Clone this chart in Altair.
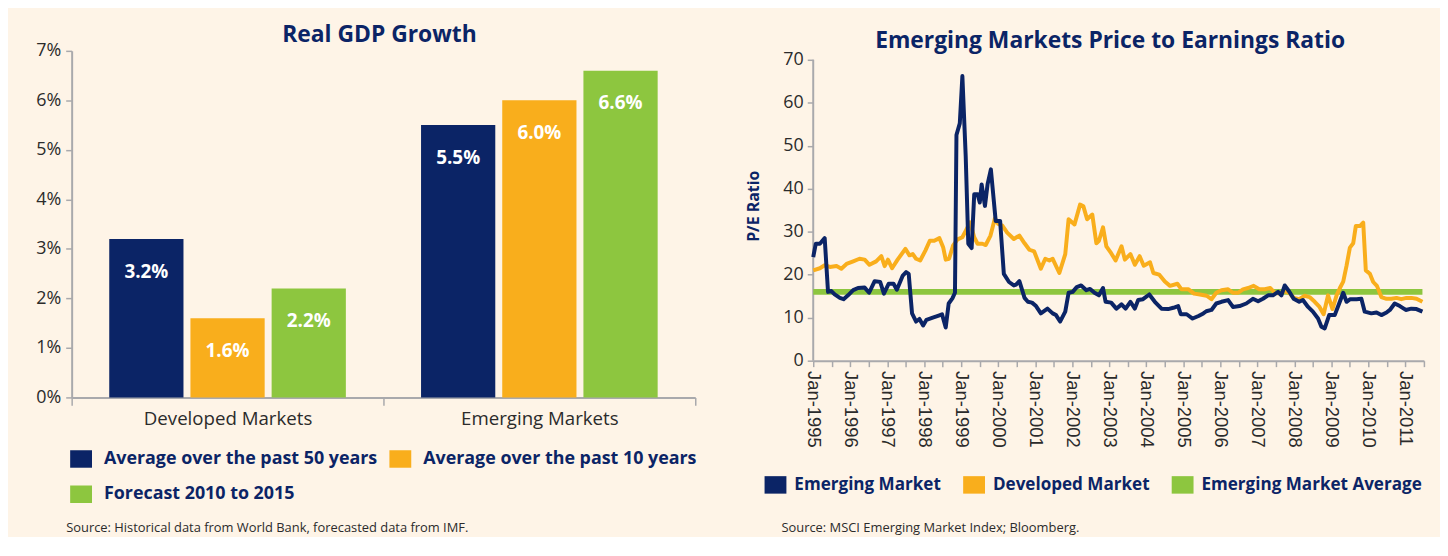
import altair as alt
import pandas as pd

# ---------------- Left chart data: Real GDP Growth ----------------
gdp_title = "Real GDP Growth"
gdp_categories = ["Developed Markets", "Emerging Markets"]
gdp_series = ["Average over the past 50 years", "Average over the past 10 years", "Forecast 2010 to 2015"]
gdp_developed = [3.2, 1.6, 2.2]
gdp_emerging = [5.5, 6.0, 6.6]
gdp_ticks = [0, 1, 2, 3, 4, 5, 6, 7]

# ---------------- Right chart data: EM P/E ratio ----------------
pe_title = "Emerging Markets Price to Earnings Ratio"
pe_series = ["Emerging Market", "Developed Market", "Emerging Market Average"]
pe_years = list(range(1995, 2012))
pe_ticks = [0, 10, 20, 30, 40, 50, 60, 70]

em_t = [1995.00, 1995.07, 1995.18, 1995.31, 1995.40, 1995.49, 1995.58, 1995.72, 1995.82, 1995.94,
        1996.08, 1996.21, 1996.39, 1996.51, 1996.66, 1996.81, 1996.91, 1997.04, 1997.17, 1997.26,
        1997.42, 1997.51, 1997.58, 1997.67, 1997.78, 1997.87, 1997.97, 1998.06, 1998.23, 1998.39,
        1998.48, 1998.58, 1998.66, 1998.76, 1998.83, 1998.87, 1998.96, 1999.03, 1999.12, 1999.19,
        1999.28, 1999.35, 1999.44, 1999.50, 1999.55, 1999.64, 1999.71, 1999.80, 1999.93, 2000.05,
        2000.15, 2000.29, 2000.42, 2000.48, 2000.57, 2000.71, 2000.80, 2000.91, 2001.02, 2001.15,
        2001.33, 2001.47, 2001.56, 2001.67, 2001.81, 2001.90, 2002.01, 2002.12, 2002.24, 2002.38,
        2002.48, 2002.60, 2002.72, 2002.83, 2002.90, 2003.05, 2003.19, 2003.33, 2003.44, 2003.57,
        2003.69, 2003.78, 2003.91, 2004.08, 2004.23, 2004.41, 2004.59, 2004.73, 2004.86, 2004.93,
        2005.09, 2005.25, 2005.41, 2005.54, 2005.62, 2005.76, 2005.89, 2006.03, 2006.21, 2006.34,
        2006.52, 2006.70, 2006.88, 2007.02, 2007.15, 2007.29, 2007.42, 2007.56, 2007.65, 2007.74,
        2007.86, 2007.98, 2008.13, 2008.23, 2008.37, 2008.50, 2008.64, 2008.73, 2008.82, 2008.94,
        2009.09, 2009.21, 2009.32, 2009.41, 2009.51, 2009.68, 2009.81, 2009.90, 2010.08, 2010.22,
        2010.35, 2010.49, 2010.58, 2010.71, 2010.85, 2011.01, 2011.16, 2011.30, 2011.46]
em_pe = [24.1, 27.2, 27.2, 28.5, 16.0, 16.2, 15.4, 14.6, 14.3, 15.2,
         16.4, 16.9, 17.0, 15.8, 18.5, 18.3, 15.6, 17.9, 17.9, 16.5,
         19.8, 20.6, 20.2, 11.0, 9.1, 9.7, 8.2, 9.5, 10.0, 10.5,
         10.8, 7.7, 13.3, 14.5, 15.8, 52.5, 55.2, 66.2, 47.5, 27.2,
         26.2, 38.7, 38.7, 36.8, 41.0, 36.0, 41.0, 44.5, 32.5, 32.5,
         20.2, 18.3, 17.5, 17.7, 18.5, 14.6, 13.7, 13.5, 12.7, 11.0,
         12.1, 11.0, 10.6, 9.1, 11.4, 15.8, 16.0, 17.1, 17.5, 16.4,
         16.7, 15.8, 15.2, 16.9, 13.7, 13.5, 12.1, 13.1, 12.1, 13.7,
         12.1, 14.1, 14.3, 15.4, 13.7, 12.1, 12.0, 12.3, 12.7, 10.8,
         10.8, 9.8, 10.4, 11.0, 11.5, 11.8, 13.3, 13.7, 14.1, 12.5,
         12.7, 13.3, 14.4, 13.8, 14.4, 15.2, 15.2, 16.0, 15.2, 17.5,
         16.1, 14.4, 13.7, 14.1, 12.5, 11.4, 9.8, 7.9, 7.5, 10.6,
         10.6, 13.3, 15.8, 13.7, 14.3, 14.3, 14.4, 11.4, 11.0, 11.2,
         10.6, 11.2, 11.8, 13.3, 12.7, 11.8, 12.1, 12.0, 11.4]

dm_t = [1995.00, 1995.18, 1995.31, 1995.45, 1995.63, 1995.76, 1995.90, 1996.08, 1996.25, 1996.39,
        1996.52, 1996.70, 1996.84, 1996.93, 1997.02, 1997.13, 1997.28, 1997.49, 1997.60, 1997.69,
        1997.78, 1997.89, 1998.03, 1998.15, 1998.27, 1998.41, 1998.51, 1998.58, 1998.67, 1998.78,
        1998.90, 1999.03, 1999.12, 1999.24, 1999.35, 1999.44, 1999.57, 1999.66, 1999.79, 1999.91,
        2000.00, 2000.11, 2000.24, 2000.42, 2000.57, 2000.71, 2000.84, 2000.97, 2001.15, 2001.27,
        2001.38, 2001.47, 2001.65, 2001.81, 2001.90, 2002.06, 2002.21, 2002.30, 2002.40, 2002.54,
        2002.65, 2002.72, 2002.83, 2002.92, 2003.05, 2003.17, 2003.33, 2003.42, 2003.57, 2003.69,
        2003.82, 2003.93, 2004.10, 2004.19, 2004.35, 2004.50, 2004.64, 2004.84, 2004.95, 2005.14,
        2005.29, 2005.45, 2005.63, 2005.76, 2005.89, 2006.03, 2006.21, 2006.34, 2006.48, 2006.61,
        2006.75, 2006.90, 2007.05, 2007.20, 2007.35, 2007.47, 2007.60, 2007.74, 2007.86, 2007.98,
        2008.13, 2008.28, 2008.41, 2008.55, 2008.68, 2008.79, 2008.91, 2009.03, 2009.14, 2009.23,
        2009.32, 2009.41, 2009.50, 2009.59, 2009.66, 2009.77, 2009.86, 2009.93, 2010.04, 2010.13,
        2010.23, 2010.35, 2010.49, 2010.62, 2010.76, 2010.89, 2011.03, 2011.16, 2011.30, 2011.46]
dm_pe = [21.0, 21.5, 22.2, 21.8, 22.0, 21.4, 22.5, 23.1, 23.7, 23.5,
         22.3, 23.1, 24.3, 22.0, 23.5, 21.5, 23.5, 26.0, 24.5, 24.8,
         23.7, 23.3, 25.6, 27.9, 27.9, 28.5, 26.4, 23.5, 23.7, 26.8,
         28.2, 28.7, 30.2, 32.2, 28.7, 27.2, 27.2, 26.9, 29.1, 33.1,
         31.8, 31.4, 29.8, 28.3, 29.1, 27.3, 25.8, 25.4, 21.4, 23.7,
         23.3, 23.7, 20.4, 24.8, 32.9, 31.7, 36.3, 35.9, 32.9, 34.0,
         27.3, 27.9, 31.0, 26.6, 25.0, 23.3, 26.6, 23.5, 24.8, 22.3,
         24.3, 22.1, 22.9, 20.4, 20.0, 18.4, 17.4, 17.9, 16.6, 16.6,
         15.6, 15.4, 15.1, 14.3, 15.8, 16.4, 16.6, 15.8, 15.8, 16.6,
         16.9, 17.4, 16.6, 16.6, 16.9, 15.8, 15.6, 16.1, 15.8, 14.6,
         14.3, 15.1, 14.8, 13.7, 12.5, 10.8, 15.2, 12.0, 15.2, 16.9,
         18.4, 22.1, 26.3, 27.3, 31.3, 31.3, 32.1, 21.0, 20.2, 18.3,
         17.4, 14.8, 14.4, 14.4, 14.6, 14.3, 14.6, 14.6, 14.4, 13.7]

avg_t = [1995.0, 2011.46]
avg_pe = [16.0, 16.0]

source_left = "Source: Historical data from World Bank, forecasted data from IMF."
source_right = "Source: MSCI Emerging Market Index; Bloomberg."

# ---------------- Styles ----------------
NAVY = "#0B2466"
ORANGE = "#F9AE1C"
GREEN = "#8DC63F"
CREAM = "#FEF4E7"
GRAY = "#A9A9AC"
TXT = "#2B2B2B"
FONT = "Open Sans"
RECT = "M-1,-0.8H1V0.8H-1Z"


def text_layer(txt, x, y, size, weight="normal", color=TXT, align="left"):
    return alt.Chart(pd.DataFrame({"txt": [txt]})).mark_text(
        align=align, baseline="middle", font=FONT, fontSize=size, fontWeight=weight, color=color
    ).encode(x=alt.value(x), y=alt.value(y), text="txt:N")


def legend_def(x, y, cols, colpad, size, offset):
    return alt.Legend(title=None, orient="none", legendX=x, legendY=y,
                      direction="horizontal", columns=cols, columnPadding=colpad,
                      rowPadding=15.5, symbolType=RECT, symbolSize=484,
                      symbolStrokeWidth=0, symbolOpacity=1, labelOffset=offset,
                      labelFont=FONT, labelFontWeight="bold", labelFontSize=size,
                      labelColor=NAVY, labelLimit=0)


# ---------------- Left chart ----------------
gdp_df = pd.DataFrame({
    "category": [c for c in gdp_categories for _ in gdp_series],
    "series": gdp_series * 2,
    "value": gdp_developed + gdp_emerging,
})
gdp_df["label"] = gdp_df["value"].map(lambda v: f"{v:.1f}%")

base_l = alt.Chart(gdp_df).encode(
    x=alt.X("category:N", sort=gdp_categories,
            scale=alt.Scale(paddingInner=0, paddingOuter=0),
            axis=alt.Axis(title=None, labelAngle=0, tickBand="extent", labelFont=FONT,
                          labelFontSize=18.8, labelColor=TXT, labelPadding=4, tickSize=8,
                          tickColor=GRAY, tickWidth=1.5, domainColor=GRAY, domainWidth=2)),
    xOffset=alt.XOffset("series:N", sort=gdp_series,
                        scale=alt.Scale(paddingInner=0.0857, paddingOuter=0.463)),
    y=alt.Y("value:Q", scale=alt.Scale(domain=[0, 7], nice=False),
            axis=alt.Axis(title=None, values=gdp_ticks, labelExpr="datum.value + '%'",
                          grid=False, labelFont=FONT, labelFontSize=18, labelColor=TXT,
                          labelPadding=5, tickSize=6, tickColor=GRAY, tickWidth=1.5,
                          domainColor=GRAY, domainWidth=2)),
)

bars = base_l.mark_bar().encode(
    color=alt.Color("series:N", sort=gdp_series,
                    scale=alt.Scale(domain=gdp_series, range=[NAVY, ORANGE, GREEN]),
                    legend=legend_def(-1.5, 400, 2, 11.5, 18, 12))
)
bar_text = base_l.mark_text(dy=33, baseline="middle", font=FONT, fontWeight="bold",
                            fontSize=19, color="white").encode(text="label:N")

left = alt.layer(
    bars, bar_text,
    text_layer(gdp_title, 310, -16, 23, "bold", NAVY, "center"),
    text_layer(source_left, -5.5, 480.5, 13),
).properties(width=628, height=349)

# ---------------- Right chart ----------------
tick_vals = [y + h for y in pe_years for h in (0.0, 0.5)]
tick_vals = [v for v in tick_vals if v <= 2011.5]

x_pe = alt.X("t:Q", scale=alt.Scale(domain=[1995, 2011.5], nice=False, zero=False),
             axis=alt.Axis(title=None, values=tick_vals,
                           labelExpr="datum.value % 1 === 0 ? 'Jan-' + datum.value : ''",
                           labelAngle=90, labelAlign="left", labelBaseline="middle",
                           labelFont="Liberation Sans", labelFontSize=18.5, labelColor=TXT,
                           labelPadding=4, tickSize=6, tickColor=GRAY, tickWidth=1.5,
                           domainColor=GRAY, domainWidth=2, grid=False, labelOverlap=False,
                           labelFlush=False, labelBound=False))
y_pe = alt.Y("pe:Q", scale=alt.Scale(domain=[0, 72.06], nice=False),
             axis=alt.Axis(title="P/E Ratio", values=pe_ticks, grid=False, domain=False,
                           titleFont=FONT, titleFontWeight="bold", titleFontSize=16,
                           titleColor=NAVY, titlePadding=22,
                           labelFont=FONT, labelFontSize=18, labelColor=TXT, labelPadding=4,
                           tickSize=6, tickColor=GRAY, tickWidth=1.5))
stroke_pe = alt.Stroke("series:N", sort=pe_series,
                       scale=alt.Scale(domain=pe_series, range=[NAVY, ORANGE, GREEN]),
                       legend=None)

avg_df = pd.DataFrame({"t": avg_t, "pe": avg_pe, "series": pe_series[2]})
dm_df = pd.DataFrame({"t": dm_t, "pe": dm_pe, "series": pe_series[1]})
em_df = pd.DataFrame({"t": em_t, "pe": em_pe, "series": pe_series[0]})

axis_df = pd.DataFrame({"t": [pe_years[0]], "pe": [pe_ticks[0]], "hi": [pe_ticks[-1]]})
y_axis_line = alt.Chart(axis_df).mark_rule(color=GRAY, strokeWidth=2).encode(
    x=x_pe, y=y_pe, y2=alt.Y2("hi:Q"))

avg_line = alt.Chart(avg_df).mark_line().encode(
    x=x_pe, y=y_pe, stroke=stroke_pe, strokeWidth=alt.value(6))
dm_line = alt.Chart(dm_df).mark_line(strokeJoin="round").encode(
    x=x_pe, y=y_pe, stroke=stroke_pe, strokeWidth=alt.value(4))
em_line = alt.Chart(em_df).mark_line(strokeJoin="round").encode(
    x=x_pe, y=y_pe, stroke=stroke_pe, strokeWidth=alt.value(4))

# legend keys: points placed before the visible period, clipped away; only their legend shows
legend_df = pd.DataFrame({"key": pe_series, "t": [pe_years[0] - 1] * 3, "pe": [avg_pe[0]] * 3})
legend_layer = alt.Chart(legend_df).mark_square(clip=True).encode(
    x=x_pe, y=y_pe,
    color=alt.Color("key:N", sort=pe_series,
                    scale=alt.Scale(domain=pe_series, range=[NAVY, ORANGE, GREEN]),
                    legend=legend_def(-49, 426, 3, 22, 17.2, 8)))

right = alt.layer(
    legend_layer, y_axis_line, avg_line, dm_line, em_line,
    text_layer(pe_title, 299, -10, 23, "bold", NAVY, "center"),
    text_layer(source_right, -32, 480.5, 13),
).properties(width=615, height=312)

chart = alt.hconcat(left, right, spacing=47.8).resolve_scale(
    color="independent", stroke="independent"
).resolve_legend(
    color="independent", stroke="independent"
).properties(
    background=CREAM,
    padding={"left": 27.1, "top": 14.3, "right": 5, "bottom": 0},
).configure_view(stroke=None)

chart.save("out.html", embed_options={"renderer": "svg", "actions": False})
